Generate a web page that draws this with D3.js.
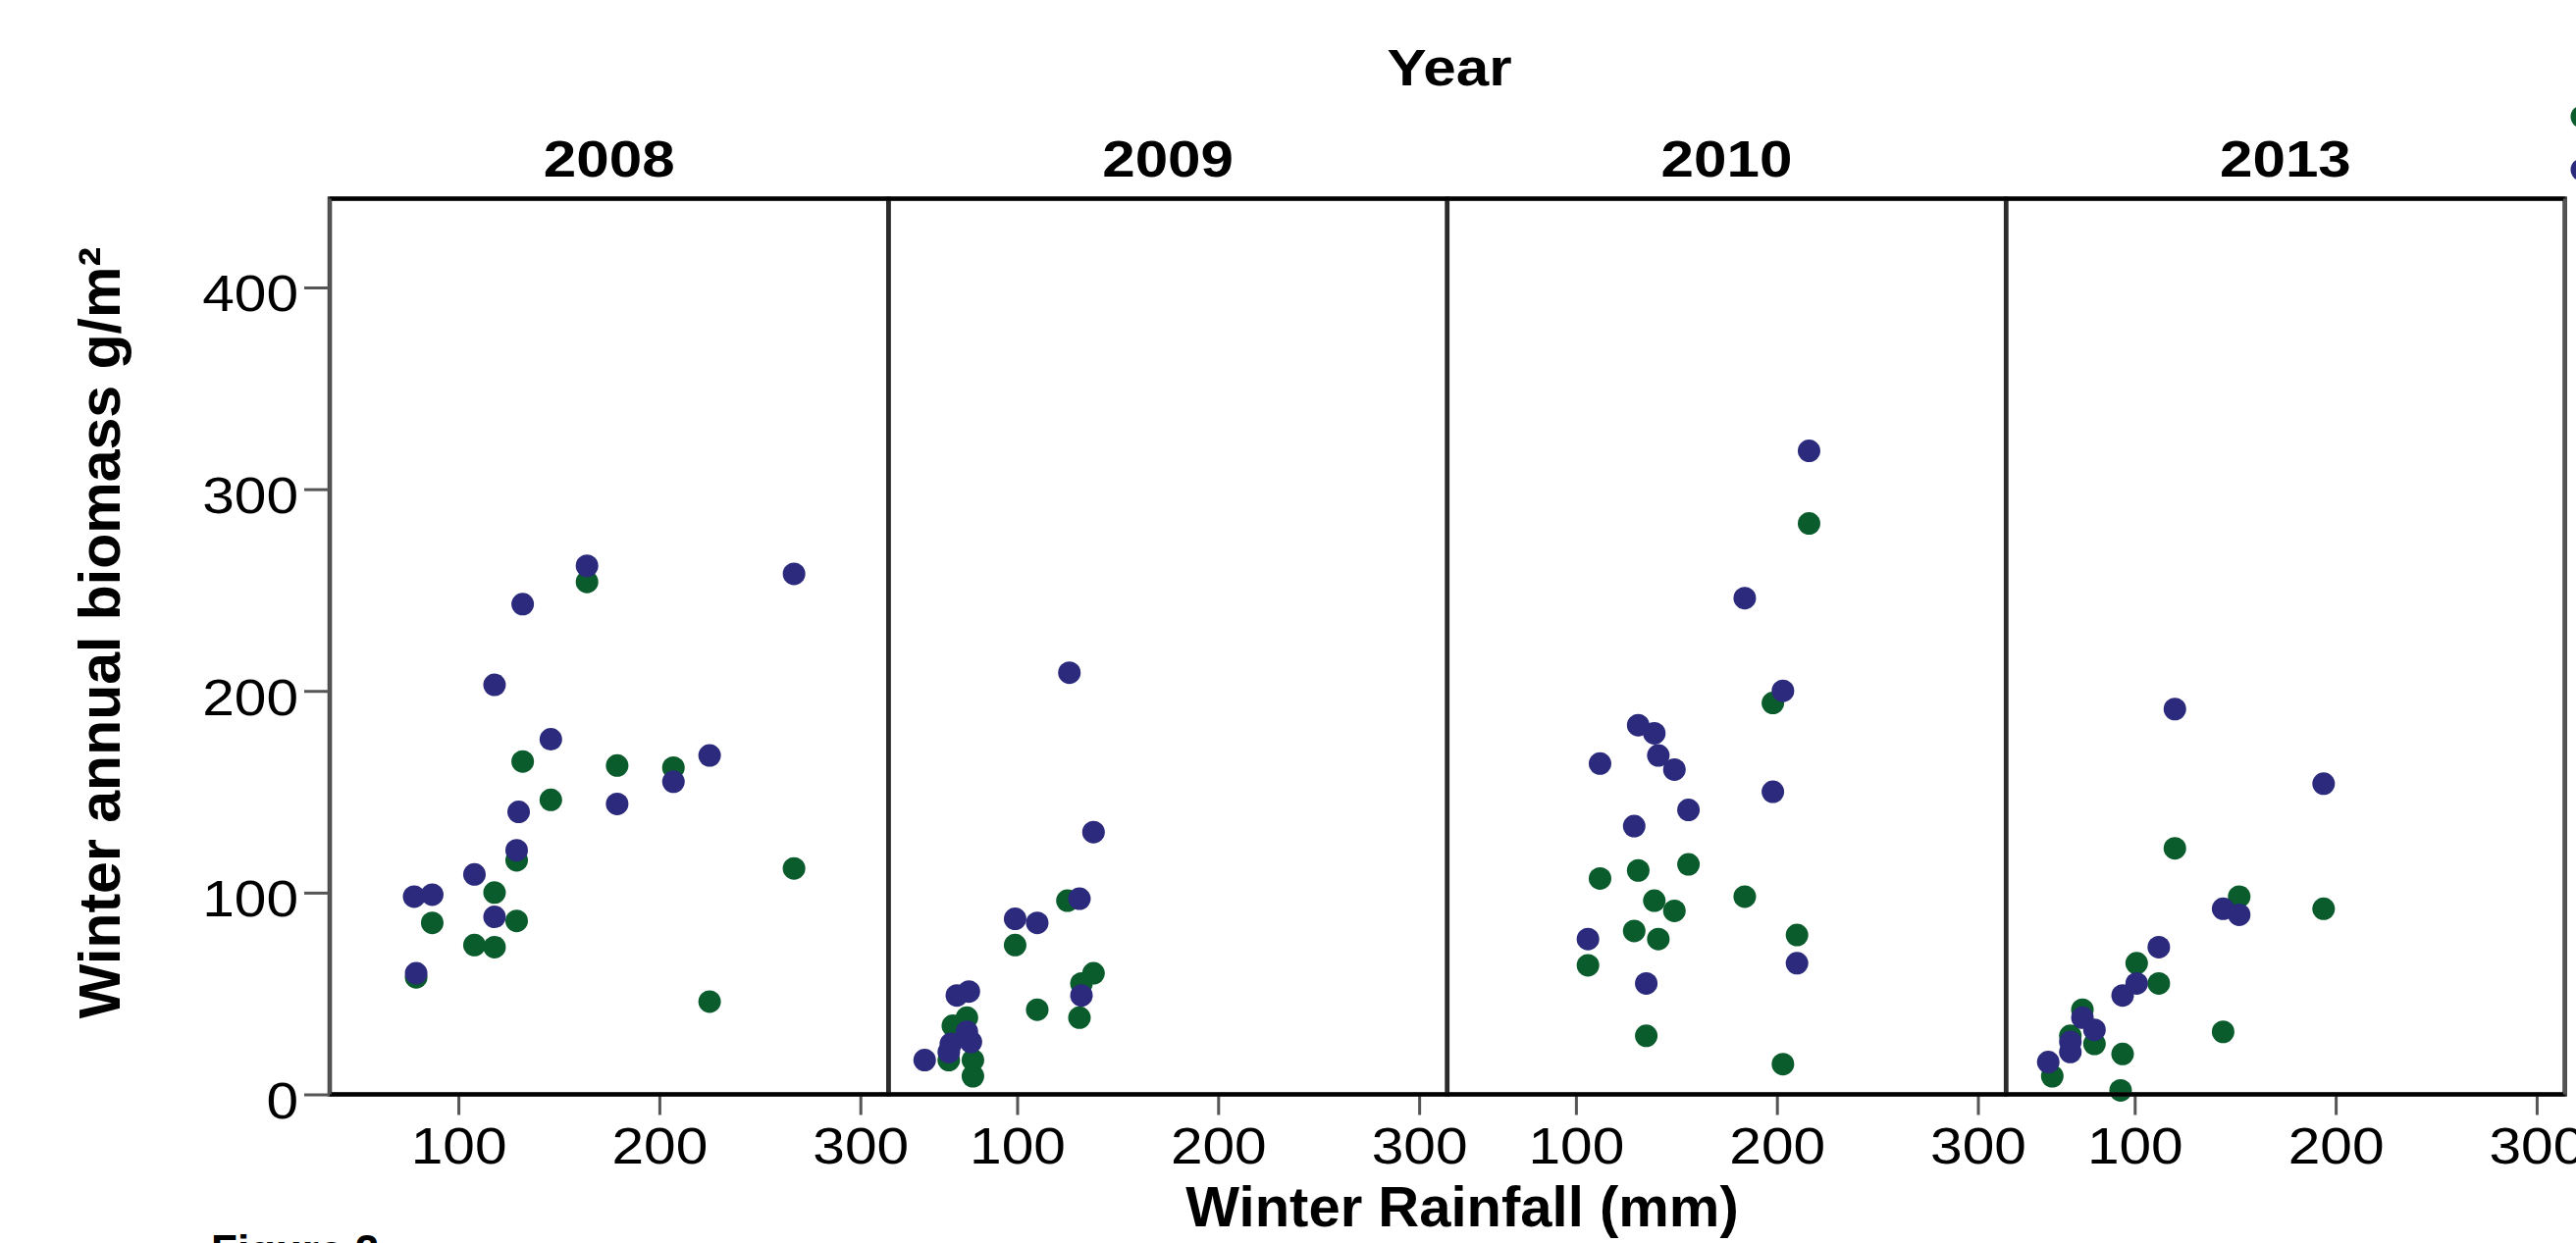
<!DOCTYPE html>
<html>
<head>
<meta charset="utf-8">
<script src="https://cdn.jsdelivr.net/npm/d3@7"></script>
<style>
  body { margin: 0; background: #fff; }
  svg { display: block; font-family: "Liberation Sans", Arial, sans-serif; }
  .tick text { transform-box: fill-box; transform-origin: center; transform: scaleX(1.15); }
  .y-axis .tick text { transform-origin: right center; }
  .strip { transform-box: fill-box; transform-origin: center; transform: scaleX(1.18); }
</style>
</head>
<body>
<script>

// Panels (one per year) and axis ticks
const years = ["2008", "2009", "2010", "2013"];
const xTicks = [100, 200, 300];
const yTicks = [0, 100, 200, 300, 400];

// Points as [winter rainfall (mm), winter annual biomass (g/m2)]
const green2008 = [[164, 254], [132, 165], [179, 163], [207, 162], [146, 146], [129, 116], [267, 112],
    [118, 100], [87, 85], [129, 86], [108, 74], [118, 73], [79, 58], [225, 46]];
const blue2008 = [[164, 262], [267, 258], [132, 243], [118, 203], [146, 176], [225, 168], [207, 155],
    [179, 144], [130, 140], [129, 121], [108, 109], [87, 99], [78, 98], [118, 88], [79, 60]];

const green2009 = [[125, 96], [99, 74], [138, 60], [132, 55], [110, 42], [131, 38], [75, 38],
    [68, 34], [66, 17], [78, 17], [78, 9]];
const blue2009 = [[126, 209], [138, 130], [131, 97], [99, 87], [110, 85], [132, 49], [70, 49],
    [76, 51], [75, 31], [67, 25], [77, 26], [66, 21], [54, 17]];

const green2010 = [[216, 283], [198, 194], [184, 98], [210, 79], [203, 15], [156, 114], [131, 111],
    [112, 107], [139, 96], [149, 91], [129, 81], [141, 77], [106, 64], [135, 29]];
const blue2010 = [[216, 319], [184, 246], [203, 200], [198, 150], [210, 65], [131, 183], [139, 179],
    [141, 168], [149, 161], [112, 164], [156, 141], [129, 133], [106, 77], [135, 55]];

const green2013 = [[120, 122], [152, 98], [194, 92], [101, 65], [112, 55], [74, 42], [80, 25],
    [68, 29], [59, 9], [94, 20], [93, 2], [144, 31]];
const blue2013 = [[120, 191], [194, 154], [144, 92], [152, 89], [112, 73], [101, 55], [94, 49],
    [74, 38], [80, 32], [68, 26], [68, 21], [57, 16]];

const greenByYear = [green2008, green2009, green2010, green2013];
const blueByYear = [blue2008, blue2009, blue2010, blue2013];

const colors = {green: "#0b5c2c", blue: "#2b2a7c"};

// Dimensions
const width = 2625, height = 1267;
const margin = {top: 202.5, left: 336};
const panelW = 569.4, panelH = 913;
const dotR = 11.5;

const svg = d3.select("body")
    .append("svg")
    .attr("width", width)
    .attr("height", height);

// Scales
const panel = d3.scaleBand()
    .domain(years)
    .range([margin.left, margin.left + years.length * panelW]);

const x = d3.scaleLinear().domain([36, 314]).range([0, panelW]);
const y = d3.scaleLinear().domain([0, 444]).range([margin.top + panelH, margin.top]);

// One panel per year
years.forEach((yr, i) => {
    const g = svg.append("g").attr("transform", `translate(${panel(yr)},0)`);

    // x axis
    const xa = g.append("g")
        .attr("transform", `translate(0,${y(0)})`)
        .call(d3.axisBottom(x).tickValues(xTicks).tickSize(21).tickPadding(13));
    xa.select(".domain").remove();
    xa.selectAll(".tick line").attr("stroke", "#555").attr("stroke-width", 3);
    xa.selectAll(".tick text")
        .attr("fill", "#000")
        .style("font-size", "51px");

    // points, green first then blue on top
    g.selectAll("circle.green")
        .data(greenByYear[i])
        .join("circle")
        .attr("class", "green")
        .attr("cx", d => x(d[0]))
        .attr("cy", d => y(d[1]))
        .attr("r", dotR)
        .attr("fill", colors.green);

    g.selectAll("circle.blue")
        .data(blueByYear[i])
        .join("circle")
        .attr("class", "blue")
        .attr("cx", d => x(d[0]))
        .attr("cy", d => y(d[1]))
        .attr("r", dotR)
        .attr("fill", colors.blue);

    // panel frame
    g.append("rect")
        .attr("x", 0)
        .attr("y", margin.top)
        .attr("width", panelW)
        .attr("height", panelH)
        .attr("fill", "none")
        .attr("stroke", "#2b2b2b")
        .attr("stroke-width", 4.5);

    // year strip label
    g.append("text")
        .attr("class", "strip")
        .attr("x", panelW / 2)
        .attr("y", 180)
        .attr("text-anchor", "middle")
        .style("font-size", "51px")
        .style("font-weight", "bold")
        .text(yr);
});

const x0 = margin.left, x1 = margin.left + years.length * panelW;

// top and bottom rules
svg.append("line")
    .attr("x1", x0).attr("x2", x1)
    .attr("y1", margin.top).attr("y2", margin.top)
    .attr("stroke", "#000").attr("stroke-width", 4);
svg.append("line")
    .attr("x1", x0).attr("x2", x1)
    .attr("y1", y(0)).attr("y2", y(0))
    .attr("stroke", "#000").attr("stroke-width", 4);

// right edge is lighter
svg.append("line")
    .attr("x1", x1).attr("x2", x1)
    .attr("y1", margin.top).attr("y2", y(0))
    .attr("stroke", "#555").attr("stroke-width", 3.5);

// y axis on first panel
const ya = svg.append("g")
    .attr("class", "y-axis")
    .attr("transform", `translate(${x0},0)`)
    .call(d3.axisLeft(y).tickValues(yTicks).tickSize(26).tickPadding(6));
ya.select(".domain")
    .attr("stroke", "#555")
    .attr("stroke-width", 3.5)
    .attr("d", `M0,${margin.top}V${y(0)}`);
ya.selectAll(".tick line").attr("stroke", "#555").attr("stroke-width", 3);
ya.selectAll(".tick text")
    .attr("fill", "#000")
    .attr("dy", "0.47em")
    .style("font-size", "51px");

// titles
svg.append("text")
    .attr("class", "strip")
    .attr("x", 1477)
    .attr("y", 87)
    .attr("text-anchor", "middle")
    .style("font-size", "51px")
    .style("font-weight", "bold")
    .text("Year");

svg.append("text")
    .attr("x", 1490)
    .attr("y", 1250)
    .attr("text-anchor", "middle")
    .style("font-size", "58px")
    .style("font-weight", "bold")
    .text("Winter Rainfall (mm)");

svg.append("text")
    .attr("transform", "translate(122,645) rotate(-90)")
    .attr("text-anchor", "middle")
    .style("font-size", "59px")
    .style("font-weight", "bold")
    .text("Winter annual biomass g/m\u00B2");

// legend markers (cut off at the right edge)
svg.selectAll("circle.legend")
    .data(["green", "blue"])
    .join("circle")
    .attr("class", "legend")
    .attr("cx", 2631)
    .attr("cy", (d, i) => 119 + i * 54)
    .attr("r", dotR)
    .attr("fill", d => colors[d]);

// caption, mostly below the bottom edge
svg.append("text")
    .attr("x", 215)
    .attr("y", 1290)
    .style("font-size", "44px")
    .style("font-weight", "bold")
    .text("Figure 2");

</script>
</body>
</html>
